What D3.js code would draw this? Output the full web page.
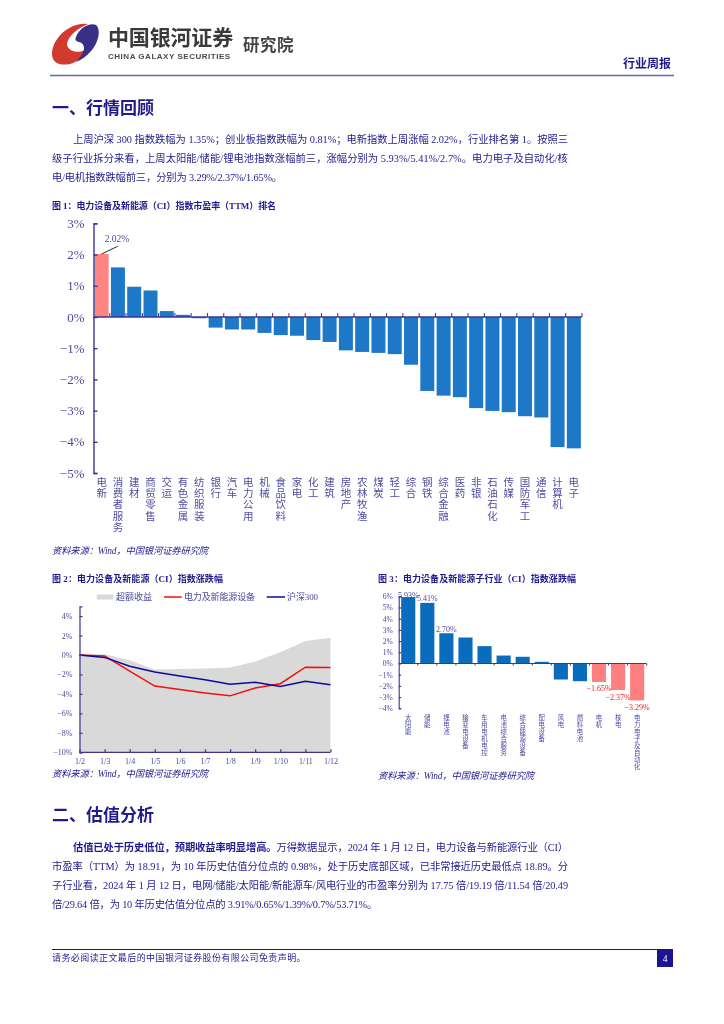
<!DOCTYPE html>
<html><head><meta charset="utf-8">
<script src="https://cdn.jsdelivr.net/npm/d3@7"></script>
<style>
html,body{margin:0;padding:0;background:#fff}
svg{display:block;filter:blur(0.3px)}
text{font-family:"Liberation Serif","Noto Sans CJK SC",serif}
</style></head><body>
<svg id="page" width="724" height="1024"></svg>
<script>
// Figure 1
const rankCategories=["电新","消费者服务","建材","商贸零售","交运","有色金属","纺织服装","银行","汽车","电力公用","机械","食品饮料","家电","化工","建筑","房地产","农林牧渔","煤炭","轻工","综合","钢铁","综合金融","医药","非银","石油石化","传媒","国防军工","通信","计算机","电子"];
const rankValues=[2.02,1.59,0.97,0.85,0.19,0.07,-0.04,-0.34,-0.40,-0.40,-0.51,-0.58,-0.60,-0.74,-0.80,-1.07,-1.12,-1.15,-1.19,-1.53,-2.37,-2.52,-2.57,-2.92,-3.01,-3.05,-3.18,-3.22,-4.17,-4.21];
const rankTicks=[3,2,1,0,-1,-2,-3,-4,-5];
// Figure 2
const dates=["1/2","1/3","1/4","1/5","1/6","1/7","1/8","1/9","1/10","1/11","1/12"];
const excessReturn=[0,0.08,-0.55,-1.5,-1.45,-1.4,-1.3,-0.68,0.27,1.43,1.77];
const sectorReturn=[0,-0.1,-1.65,-3.2,-3.55,-3.9,-4.2,-3.4,-2.95,-1.25,-1.3];
const csi300Return=[0,-0.25,-1.15,-1.75,-2.15,-2.55,-3.0,-2.8,-3.25,-2.7,-3.05];
const lineTicks=[4,2,0,-2,-4,-6,-8,-10];
// Figure 3
const subCategories=["太阳能","储能","锂电池","输变电设备","车用电机电控","电池综合服务","综合能源设备","配电设备","风电","燃料电池","电机","核电","电力电子及自动化"];
const subValues=[5.93,5.41,2.70,2.32,1.55,0.71,0.60,0.15,-1.43,-1.58,-1.65,-2.37,-3.29];
const subLabels=["5.93%","5.41%","2.70%",null,null,null,null,null,null,null,"−1.65%","−2.37%","−3.29%"];
const subTicks=[6,5,4,3,2,1,0,-1,-2,-3,-4];
// Page text
const para1=["上周沪深 300 指数跌幅为 1.35%；创业板指数跌幅为 0.81%；电新指数上周涨幅 2.02%，行业排名第 1。按照三","级子行业拆分来看，上周太阳能/储能/锂电池指数涨幅前三，涨幅分别为  5.93%/5.41%/2.7%。电力电子及自动化/核","电/电机指数跌幅前三，分别为 3.29%/2.37%/1.65%。"];
const para2Bold="估值已处于历史低位，预期收益率明显增高。";
const para2=["万得数据显示，2024 年 1 月 12 日，电力设备与新能源行业（CI）","市盈率（TTM）为 18.91，为 10 年历史估值分位点的 0.98%，处于历史底部区域，已非常接近历史最低点 18.89。分","子行业看，2024 年 1 月 12 日，电网/储能/太阳能/新能源车/风电行业的市盈率分别为 17.75 倍/19.19 倍/11.54 倍/20.49","倍/29.64 倍，为 10 年历史估值分位点的 3.91%/0.65%/1.39%/0.7%/53.71%。"];

const NAVY="#1f1a8e", AXIS="#3b3596", LABEL="#4b479f";
const svg=d3.select("#page");

function fit(sel,target){
  const n=sel.text().length, len=sel.node().getComputedTextLength();
  sel.style("letter-spacing",((target-len)/n)+"px");
  return sel;
}
function txt(x,y,s,size,opt={}){
  const t=svg.append("text").attr("x",x).attr("y",y).attr("font-size",size)
    .attr("fill",opt.fill||NAVY).attr("font-weight",opt.weight||"normal")
    .attr("font-style",opt.style||"normal").attr("text-anchor",opt.anchor||"start")
    .attr("dominant-baseline","central").text(s);
  if(opt.width) fit(t,opt.width);
  return t;
}
function vertical(g,x,y0,s,size,step,fill){
  const t=g.append("text").attr("font-size",size).attr("fill",fill).attr("text-anchor","middle").attr("dominant-baseline","central");
  Array.from(s).forEach((c,i)=>t.append("tspan").attr("x",x).attr("y",y0+i*step).text(c));
}
function styleAxis(g,color,w,size,fill){
  g.selectAll("path.domain,line").attr("stroke",color).attr("stroke-width",w);
  g.selectAll("text").attr("font-size",size).attr("fill",fill).style("font-family",'"Liberation Serif",serif');
}

// Header
svg.append("path").attr("fill","#d23a2e").attr("d","M88 24C72 21 52 37 52 54C52 63 60 66 70 64C78 62 83 56 85 50C78 54 67 51 67 44C68 36 78 28 88 24Z");
svg.append("path").attr("fill","#3a2f86").attr("d","M76 37C79 28 90 22 96 25C101 29 99 42 91 51C86 57 81 60 76 62C85 53 87 44 79 42C75 41 75 39 76 37Z");
txt(108,38,"中国银河证券",21,{fill:"#3a3a3a",weight:"bold",width:125});
txt(108,56.5,"CHINA GALAXY SECURITIES",8,{fill:"#4a4a4a",weight:"bold",width:125}).style("font-family",'"Liberation Sans",sans-serif');
txt(243,45,"研究院",16.5,{fill:"#444",weight:"bold",width:51});
txt(671,64,"行业周报",12,{weight:"bold",anchor:"end"});
svg.append("line").attr("x1",50).attr("x2",674).attr("y1",75.5).attr("y2",75.5).attr("stroke","#6a62b2").attr("stroke-width",1.6);

// Section 1
txt(52,108,"一、行情回顾",17,{weight:"bold",width:102});
[[73,139,495],[52,158,516],[52,177,230]].forEach((p,i)=>txt(p[0],p[1],para1[i],10.3,{width:p[2]}));

// Figure 1
txt(52,205.5,"图 1：电力设备及新能源（CI）指数市盈率（TTM）排名",9,{weight:"bold",width:224});
{
  const x=d3.scaleBand().domain(rankCategories).range([93.5,582]).paddingInner(0.14).paddingOuter(0.07);
  const y=d3.scaleLinear().domain([-5,3]).range([473,223.4]);
  const g=svg.append("g");
  g.selectAll("rect").data(rankValues).join("rect")
    .attr("x",(d,i)=>x(rankCategories[i])).attr("width",x.bandwidth())
    .attr("y",d=>y(Math.max(d,0))).attr("height",d=>Math.abs(y(d)-y(0)))
    .attr("fill",(d,i)=>i===0?"#ff8585":"#1e78c8");
  const ya=svg.append("g").attr("transform","translate(93.5,0)")
    .call(d3.axisLeft(y).tickValues(rankTicks).tickSize(-4).tickPadding(9).tickFormat(d=>(d<0?"−":"")+Math.abs(d)+"%"));
  styleAxis(ya,AXIS,1.4,13,LABEL);
  const xa=svg.append("g").attr("transform",`translate(0,${y(0)})`);
  const step=x.step();
  xa.append("line").attr("x1",93.5).attr("x2",582).attr("stroke",AXIS).attr("stroke-width",1.3);
  xa.selectAll("line.t").data(rankCategories).join("line").attr("class","t")
    .attr("x1",(d,i)=>93.5+step*(i+1)).attr("x2",(d,i)=>93.5+step*(i+1)).attr("y1",-4).attr("y2",0)
    .attr("stroke",AXIS).attr("stroke-width",1);
  rankCategories.forEach(c=>vertical(svg,x(c)+x.bandwidth()/2,482,c,10.5,11.2,"#4f4ba3"));
  svg.append("line").attr("x1",x(rankCategories[0])+7).attr("y1",y(rankValues[0])).attr("x2",117.7).attr("y2",246.3).attr("stroke","#111").attr("stroke-width",.9);
  txt(117,238.7,"2.02%",9.5,{anchor:"middle",fill:LABEL});
}
txt(52,551,"资料来源：Wind，中国银河证券研究院",9.3,{style:"italic",width:156});

// Figure 2
txt(52,579,"图 2：电力设备及新能源（CI）指数涨跌幅",9,{weight:"bold",width:171});
{
  const x=d3.scalePoint().domain(dates).range([79.5,330.5]);
  const y=d3.scaleLinear().domain([-10,5]).range([752.3,606.3]);
  svg.append("path").datum(excessReturn).attr("fill","#d9d9d9")
    .attr("d",d3.area().x((d,i)=>x(dates[i])).y0(y(-10)).y1(d=>y(d)));
  const line=d3.line().x((d,i)=>x(dates[i])).y(d=>y(d));
  svg.append("path").datum(sectorReturn).attr("fill","none").attr("stroke","#f01010").attr("stroke-width",1.5).attr("d",line);
  svg.append("path").datum(csi300Return).attr("fill","none").attr("stroke","#0c0c96").attr("stroke-width",1.5).attr("d",line);
  const ya=svg.append("g").attr("transform","translate(79.5,0)")
    .call(d3.axisLeft(y).tickValues(lineTicks).tickSize(-3).tickPadding(7).tickFormat(d=>(d<0?"−":"")+Math.abs(d)+"%"));
  styleAxis(ya,AXIS,1.2,8,LABEL);
  const xa=svg.append("g").attr("transform",`translate(0,${y(-10)})`)
    .call(d3.axisBottom(x).tickSize(-3).tickPadding(6));
  styleAxis(xa,AXIS,1.2,8,LABEL);
  xa.select("path.domain").attr("d","M79.5,0H330.5");
  svg.append("rect").attr("x",96.7).attr("y",594.5).attr("width",16.6).attr("height",5).attr("fill","#d9d9d9");
  txt(116,597,"超额收益",9,{fill:LABEL,width:36});
  svg.append("line").attr("x1",164).attr("x2",181.7).attr("y1",597).attr("y2",597).attr("stroke","#f01010").attr("stroke-width",1.5);
  txt(184,597,"电力及新能源设备",9,{fill:LABEL,width:71});
  svg.append("line").attr("x1",266.7).attr("x2",285).attr("y1",597).attr("y2",597).attr("stroke","#0c0c96").attr("stroke-width",1.5);
  txt(287,597,"沪深300",9,{fill:LABEL,width:31});
}
txt(52,774,"资料来源：Wind，中国银河证券研究院",9.3,{style:"italic",width:156});

// Figure 3
txt(378,579,"图 3：电力设备及新能源子行业（CI）指数涨跌幅",9,{weight:"bold",width:198});
{
  const x=d3.scaleBand().domain(subCategories).range([398.7,646.7]).paddingInner(0.26).paddingOuter(0.13);
  const y=d3.scaleLinear().domain([-4,6]).range([708.3,596.3]);
  svg.append("g").selectAll("rect").data(subValues).join("rect")
    .attr("x",(d,i)=>x(subCategories[i])).attr("width",x.bandwidth())
    .attr("y",d=>y(Math.max(d,0))).attr("height",d=>Math.abs(y(d)-y(0)))
    .attr("fill",(d,i)=>i>=10?"#ff8080":"#0a6cbd");
  const ya=svg.append("g").attr("transform","translate(398.7,0)")
    .call(d3.axisLeft(y).tickValues(subTicks).tickSize(-2.5).tickPadding(6).tickFormat(d=>(d<0?"−":"")+Math.abs(d)+"%"));
  styleAxis(ya,AXIS,1.1,7.5,LABEL);
  const step=x.step();
  svg.append("line").attr("x1",398.7).attr("x2",646.7).attr("y1",y(0)).attr("y2",y(0)).attr("stroke",AXIS).attr("stroke-width",1);
  svg.selectAll("line.st").data(subCategories).join("line").attr("class","st")
    .attr("x1",(d,i)=>398.7+step*(i+1)).attr("x2",(d,i)=>398.7+step*(i+1)).attr("y1",y(0)).attr("y2",y(0)+2)
    .attr("stroke",AXIS).attr("stroke-width",1);
  subCategories.forEach(c=>vertical(svg,x(c)+x.bandwidth()/2,716.5,c,6.4,7.1,"#4f4ba3"));
  subValues.forEach((v,i)=>{
    if(!subLabels[i])return;
    const cx=x(subCategories[i])+x.bandwidth()/2;
    const ly=v>0?y(v)-(i===0?1.5:4):y(v)+7;
    txt(cx,ly,subLabels[i],8,{anchor:"middle",fill:v>0?LABEL:"#f01818"});
  });
}
txt(378,776,"资料来源：Wind，中国银河证券研究院",9.3,{style:"italic",width:156});

// Section 2
txt(52,815,"二、估值分析",17,{weight:"bold",width:102});
{
  const t=svg.append("text").attr("x",73).attr("y",847).attr("font-size",10.3).attr("fill",NAVY).attr("dominant-baseline","central");
  t.append("tspan").attr("font-weight","bold").text(para2Bold);
  t.append("tspan").text(para2[0]);
  fit(t,495);
}
[[52,866,516],[52,885,516],[52,904,325]].forEach((p,i)=>txt(p[0],p[1],para2[i+1],10.3,{width:p[2]}));

// Footer
svg.append("line").attr("x1",52).attr("x2",673).attr("y1",949.5).attr("y2",949.5).attr("stroke","#1a1490").attr("stroke-width",1.2);
txt(52,958,"请务必阅读正文最后的中国银河证券股份有限公司免责声明。",9,{width:254});
svg.append("rect").attr("x",657).attr("y",950).attr("width",16).attr("height",17).attr("fill","#1a1490");
txt(665,958.5,"4",9.5,{fill:"#fff",anchor:"middle"});
</script>
</body></html>
